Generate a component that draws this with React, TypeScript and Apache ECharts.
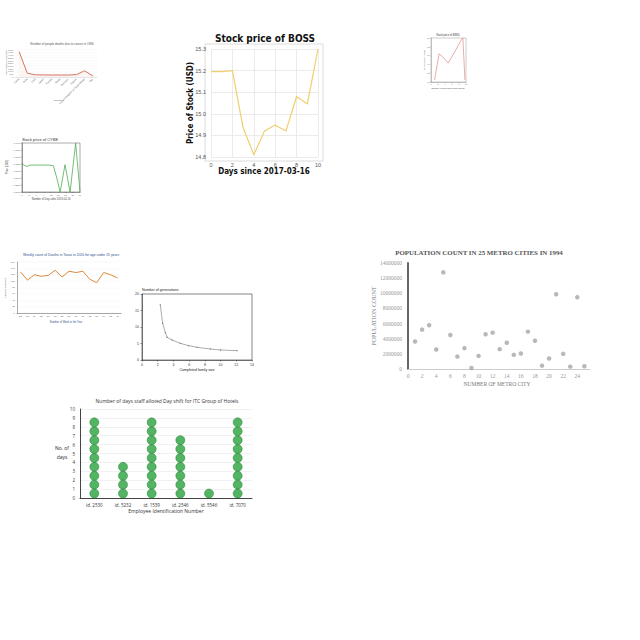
import React, { useEffect, useRef } from "react";
import * as echarts from "echarts";

// ---------- Chart 1 (top-left): deaths by country ----------
const c1Countries = ["China", "India", "USA", "Japan", "Russia", "Brazil", "Germany", "France", "United Kingdom of Great Britain", "Italy"];
const c1Deaths = [4700, 700, 400, 380, 370, 370, 370, 450, 1150, 180];

// ---------- Chart 2: Stock price of BOSS ----------
const bossDays = [0, 1, 2, 3, 4, 5, 6, 7, 8, 9, 10];
const bossPrices = [15.195, 15.195, 15.2, 14.935, 14.81, 14.92, 14.948, 14.92, 15.08, 15.045, 15.3];

// ---------- Chart 3 (top-right): small stock chart ----------
const c3Days = [1, 2.3, 3.4, 4.9, 6.6, 8.6, 9.1, 9.7];
const c3Prices = [10.45, 16.4, 15.7, 14.3, 16.6, 19.5, 20, 10.45];

// ---------- Chart 4: green stock chart ----------
const c4Days = [0, 2, 3.4, 5.5, 8.2, 11, 13, 14.4, 15.8, 17.8, 19.9, 22.2, 24];
const c4Prices = [0.58, 0.573, 0.577, 0.577, 0.577, 0.577, 0.575, 0.54, 0.5, 0.578, 0.5, 0.64, 0.5];

// ---------- Chart 5: weekly deaths ----------
const c5Weeks = ["22", "23", "24", "25", "26", "27", "28", "29", "30", "31", "32", "33", "34", "35", "36"];
const c5Deaths = [129, 103, 120, 115, 118, 134, 113, 131, 127, 131, 106, 95, 127, 120, 110];

// ---------- Chart 6: generations vs family size ----------
const c6Size = [2.33, 2.63, 2.97, 3.18, 3.82, 4.88, 5.94, 7, 8.7, 10, 12.1];
const c6Gens = [16.7, 11.1, 8.3, 6.9, 6.06, 5.05, 4.34, 3.84, 3.33, 3.03, 2.83];

// ---------- Chart 7: population scatter ----------
const c7City = [1, 2, 3, 4, 5, 6, 7, 8, 9, 10, 11, 12, 13, 14, 15, 16, 17, 18, 19, 20, 21, 22, 23, 24, 25];
const c7Pop = [3640000, 5200000, 5780000, 2580000, 12760000, 4490000, 1640000, 2760000, 130000, 1730000, 4580000, 4800000, 2620000, 3470000, 1870000, 2040000, 4930000, 3730000, 440000, 1380000, 9870000, 2000000, 310000, 9470000, 360000];

// ---------- Chart 8: dot plot ----------
const c8Employees = ["id. 2530", "id. 5232", "id. 1539", "id. 2546", "id. 5546", "id. 7070"];
const c8Days = [9, 4, 9, 7, 1, 9];

const pairs = (xs: number[], ys: number[]) => xs.map((x, i) => [x, ys[i]]);

const txt = (x: number, y: number, text: string, o: any = {}) => ({
  type: "text",
  x,
  y,
  rotation: o.rotation || 0,
  style: {
    text,
    fill: o.fill || "#333",
    fontSize: o.fontSize || 4,
    fontFamily: o.fontFamily || "Liberation Sans, Arial, sans-serif",
    fontWeight: o.fontWeight || "normal",
    align: o.align || "center",
    verticalAlign: "middle",
  },
});

export default function App() {
  const ref = useRef<HTMLDivElement>(null);
  useEffect(() => {
    if (!ref.current) return;
    const chart = echarts.init(ref.current, undefined, { renderer: "svg" });

    const c8Points: number[][] = [];
    c8Days.forEach((n, ci) => {
      for (let k = 0; k < n; k++) c8Points.push([ci, k + 0.5]);
    });

    const serif = "Liberation Serif, DejaVu Serif, serif";
    const cond = "DejaVu Sans Condensed, DejaVu Sans, sans-serif";
    const tiny = (fs: number, color = "#666") => ({ fontSize: fs, color, fontFamily: "Liberation Sans, sans-serif" });

    const option: any = {
      animation: false,
      backgroundColor: "#fff",
      grid: [
        { left: 15, top: 50, width: 82, height: 27 }, // 0 chart1
        { left: 211, top: 49, width: 107, height: 108 }, // 1 BOSS
        { left: 431, top: 38, width: 35, height: 44 }, // 2 chart3
        { left: 22, top: 143, width: 58, height: 49 }, // 3 chart4
        { left: 17, top: 262, width: 104, height: 51 }, // 4 chart5
        { left: 142, top: 294, width: 110, height: 66 }, // 5 chart6
        { left: 408, top: 263, width: 182, height: 106 }, // 6 chart7
        { left: 80, top: 409, width: 172, height: 89 }, // 7 chart8
      ],
      xAxis: [
        {
          gridIndex: 0, type: "category", data: c1Countries, boundaryGap: true,
          axisLabel: { ...tiny(2.5), rotate: 45, interval: 0, margin: 2 },
          axisTick: { show: false }, axisLine: { lineStyle: { color: "#ccc", width: 0.5 } },
        },
        {
          gridIndex: 1, type: "value", min: 0, max: 10, interval: 2,
          axisLabel: { ...tiny(5.5, "#555"), margin: 5 },
          axisTick: { show: false }, axisLine: { show: false },
          splitLine: { lineStyle: { color: "#e6e6e6", width: 0.8 } },
        },
        {
          gridIndex: 2, type: "value", min: 0, max: 10, interval: 2,
          axisLabel: { ...tiny(2), margin: 1.5 }, axisTick: { length: 1, lineStyle: { color: "#999", width: 0.4 } },
          axisLine: { lineStyle: { color: "#999", width: 0.5 } }, splitLine: { show: false },
        },
        {
          gridIndex: 3, type: "value", min: 0, max: 24, interval: 3,
          axisLabel: { ...tiny(2.3), margin: 2 }, axisTick: { length: 1, lineStyle: { color: "#555", width: 0.4 } },
          axisLine: { lineStyle: { color: "#555", width: 0.5 } }, splitLine: { show: false },
        },
        {
          gridIndex: 4, type: "category", data: c5Weeks, boundaryGap: true,
          axisLabel: { ...tiny(2.5), interval: 0, margin: 2 }, axisTick: { length: 1, lineStyle: { color: "#555", width: 0.4 } },
          axisLine: { lineStyle: { color: "#555", width: 0.5 } },
        },
        {
          gridIndex: 5, type: "value", min: 0, max: 14, interval: 2,
          axisLabel: { ...tiny(3.5, "#333"), margin: 3 }, axisTick: { length: 1.5, lineStyle: { color: "#333", width: 0.5 } },
          axisLine: { lineStyle: { color: "#333", width: 0.6 } }, splitLine: { show: false },
        },
        {
          gridIndex: 6, type: "value", min: 0, max: 25.8, interval: 2,
          axisLabel: { fontSize: 5.5, color: "#999", fontFamily: serif, margin: 4, showMaxLabel: false },
          axisTick: { show: false }, axisLine: { lineStyle: { color: "#ccc", width: 1 } }, splitLine: { show: false },
        },
        {
          gridIndex: 7, type: "category", data: c8Employees, boundaryGap: true,
          axisLabel: { fontSize: 4.5, color: "#333", fontFamily: "Open Sans, sans-serif", interval: 0, margin: 4 },
          axisTick: { show: false }, axisLine: { lineStyle: { color: "#444", width: 1 } },
        },
      ],
      yAxis: [
        {
          gridIndex: 0, type: "value", min: 0, max: 5000, interval: 500,
          axisLabel: { ...tiny(2.2), margin: 1.5 }, axisLine: { show: false }, axisTick: { show: false },
          splitLine: { lineStyle: { color: "#f0f0f0", width: 0.4 } },
        },
        {
          gridIndex: 1, type: "value", min: 14.8, max: 15.3, interval: 0.1,
          axisLabel: { ...tiny(5.5, "#555"), margin: 5, formatter: (v: number) => v.toFixed(1) },
          axisTick: { show: false }, axisLine: { show: false },
          splitLine: { lineStyle: { color: "#e6e6e6", width: 0.8 } },
        },
        {
          gridIndex: 2, type: "value", min: 10, max: 20, interval: 2,
          axisLabel: { ...tiny(2), margin: 1.5 }, axisTick: { length: 1, lineStyle: { color: "#999", width: 0.4 } },
          axisLine: { show: true, lineStyle: { color: "#999", width: 0.5 } }, splitLine: { show: false },
        },
        {
          gridIndex: 3, type: "value", min: 0.5, max: 0.64, interval: 0.02,
          axisLabel: { ...tiny(2.3), margin: 1.5, formatter: (v: number) => v.toFixed(4) },
          axisTick: { length: 1, lineStyle: { color: "#555", width: 0.4 } },
          axisLine: { show: true, lineStyle: { color: "#555", width: 0.5 } }, splitLine: { show: false },
        },
        {
          gridIndex: 4, type: "value", min: 0, max: 160, interval: 20,
          axisLabel: { ...tiny(2.5), margin: 2 }, axisLine: { show: true, lineStyle: { color: "#555", width: 0.5 } },
          axisTick: { show: false }, splitLine: { lineStyle: { color: "#eee", width: 0.4 } },
        },
        {
          gridIndex: 5, type: "value", min: 0, max: 20, interval: 5,
          axisLabel: { ...tiny(3.5, "#333"), margin: 3 }, axisTick: { length: 1.5, lineStyle: { color: "#333", width: 0.5 } },
          axisLine: { show: true, lineStyle: { color: "#333", width: 0.6 } }, splitLine: { show: false },
        },
        {
          gridIndex: 6, type: "value", min: 0, max: 14000000, interval: 2000000,
          axisLabel: { fontSize: 5.5, color: "#999", fontFamily: serif, margin: 6, formatter: (v: number) => String(v) },
          axisTick: { show: false }, axisLine: { show: true, lineStyle: { color: "#666", width: 2 } }, splitLine: { show: false },
        },
        {
          gridIndex: 7, type: "value", min: 0, max: 10, interval: 1,
          axisLabel: { fontSize: 4.5, color: "#333", fontFamily: "Open Sans, sans-serif", margin: 5 },
          axisTick: { show: false }, axisLine: { show: true, lineStyle: { color: "#444", width: 1 } },
          splitLine: { lineStyle: { color: "#e8e8e8", width: 0.6 } },
        },
      ],
      series: [
        {
          type: "line", xAxisIndex: 0, yAxisIndex: 0, data: c1Deaths, symbol: "none",
          lineStyle: { color: "#d9735f", width: 1 }, areaStyle: { color: "rgba(217,115,95,0.08)" },
        },
        {
          type: "line", xAxisIndex: 1, yAxisIndex: 1, data: pairs(bossDays, bossPrices), symbol: "none",
          lineStyle: { color: "#f0cf6e", width: 1.2 },
        },
        {
          type: "line", xAxisIndex: 2, yAxisIndex: 2, data: pairs(c3Days, c3Prices), symbol: "none",
          lineStyle: { color: "#e08a80", width: 0.7 },
        },
        {
          type: "line", xAxisIndex: 3, yAxisIndex: 3, data: pairs(c4Days, c4Prices), symbol: "none",
          lineStyle: { color: "#4caf50", width: 0.8 },
        },
        {
          type: "line", xAxisIndex: 4, yAxisIndex: 4, data: c5Deaths, symbol: "none",
          lineStyle: { color: "#e0883a", width: 1 },
        },
        {
          type: "line", xAxisIndex: 5, yAxisIndex: 5, data: pairs(c6Size, c6Gens), symbol: "circle", symbolSize: 1.2,
          itemStyle: { color: "#777" }, lineStyle: { color: "#888", width: 0.7 },
        },
        {
          type: "scatter", xAxisIndex: 6, yAxisIndex: 6, data: pairs(c7City, c7Pop), symbolSize: 4.5,
          itemStyle: { color: "#a6a6a6" },
        },
        {
          type: "scatter", xAxisIndex: 7, yAxisIndex: 7, data: c8Points, symbolSize: 9,
          itemStyle: { color: "#28a23c", borderColor: "#1d7a2e", borderWidth: 0.6 },
        },
      ],
      graphic: [
        // frames
        { type: "rect", shape: { x: 205, y: 44, width: 118, height: 117 }, style: { fill: "none", stroke: "#dcdcdc", lineWidth: 1 } },
        { type: "rect", shape: { x: 431, y: 38, width: 35, height: 44 }, style: { fill: "none", stroke: "#999", lineWidth: 0.5 } },
        { type: "rect", shape: { x: 22, y: 143, width: 58, height: 49 }, style: { fill: "none", stroke: "#555", lineWidth: 0.5 } },
        { type: "rect", shape: { x: 142, y: 294, width: 110, height: 66 }, style: { fill: "none", stroke: "#333", lineWidth: 0.6 } },
        // chart 1 texts
        txt(62, 44, "Number of people deaths due to cancer in 1996", { fontSize: 3, fill: "#555" }),
        txt(6, 63, "Total number of deaths", { fontSize: 2.5, fill: "#666", rotation: Math.PI / 2 }),
        txt(58, 100, "Country", { fontSize: 2.5, fill: "#666" }),
        // chart 2 texts
        txt(265, 38, "Stock price of BOSS", { fontSize: 10, fontWeight: "bold", fontFamily: cond, fill: "#111" }),
        txt(190, 103, "Price of Stock (USD)", { fontSize: 8, fontWeight: "bold", fontFamily: cond, fill: "#111", rotation: Math.PI / 2 }),
        txt(264, 171, "Days since 2017-03-16", { fontSize: 8, fontWeight: "bold", fontFamily: cond, fill: "#111" }),
        // chart 3 texts
        txt(448, 35, "Stock price of BSKD", { fontSize: 2.6, fill: "#333" }),
        txt(424, 60, "Price of Stock (USD)", { fontSize: 2.2, fill: "#444", rotation: Math.PI / 2 }),
        txt(448, 88, "Number of days since 2017-03-15", { fontSize: 2.2, fill: "#444" }),
        // chart 4 texts
        txt(40, 139, "Stock price of CYBE", { fontSize: 4, fill: "#333" }),
        txt(7, 167, "Price (USD)", { fontSize: 2.6, fill: "#444", rotation: Math.PI / 2 }),
        txt(51, 199, "Number of Days after 2019-04-16", { fontSize: 2.6, fill: "#444" }),
        // chart 5 texts
        txt(23, 255, "Weekly count of Deaths in Texas in 2020 for age under 25 years", { fontSize: 3.4, fill: "#2f4f8f", align: "left" }),
        txt(5, 288, "Number of deaths", { fontSize: 2.5, fill: "#555", rotation: Math.PI / 2 }),
        txt(66, 322, "Number of Week in the Year", { fontSize: 2.6, fill: "#2f4f8f" }),
        // chart 6 texts
        txt(142, 290, "Number of generations", { fontSize: 3.6, fill: "#222", align: "left" }),
        txt(197, 370, "Completed family size", { fontSize: 3.6, fill: "#222" }),
        // chart 7 texts
        txt(479, 252, "POPULATION COUNT IN 25 METRO CITIES IN 1994", { fontSize: 6.9, fontWeight: "bold", fontFamily: serif, fill: "#555" }),
        txt(374, 316, "POPULATION COUNT", { fontSize: 6, fontFamily: serif, fill: "#777", rotation: Math.PI / 2 }),
        txt(497, 384, "NUMBER OF METRO CITY", { fontSize: 5.5, fontFamily: serif, fill: "#777" }),
        // chart 8 texts
        txt(167, 401, "Number of days staff alloted Day shift for ITC Group of Hotels", { fontSize: 5, fontFamily: "Open Sans, sans-serif", fill: "#333" }),
        txt(62, 448, "No. of", { fontSize: 5, fontFamily: "Open Sans, sans-serif", fill: "#222" }),
        txt(62, 457, "days", { fontSize: 5, fontFamily: "Open Sans, sans-serif", fill: "#222" }),
        txt(166, 511, "Employee Identification Number", { fontSize: 5, fontFamily: "Open Sans, sans-serif", fill: "#333" }),
      ],
    };
    chart.setOption(option);
    return () => chart.dispose();
  }, []);
  return <div ref={ref} style={{ position: "fixed", left: 0, top: 0, width: 640, height: 640, background: "#fff" }} />;
}
